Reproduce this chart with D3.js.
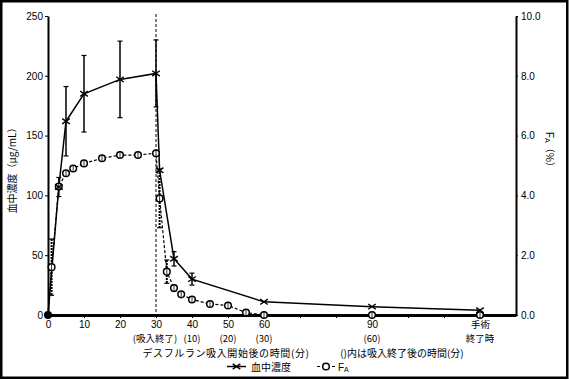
<!DOCTYPE html>
<html><head><meta charset="utf-8">
<script src="https://cdn.jsdelivr.net/npm/d3@7"></script>
<style>
body{margin:0;background:#fff;}
text{font-family:"Liberation Sans",Arial,sans-serif;}
.jp{font-family:"Noto Sans CJK JP",sans-serif;}
</style></head>
<body><svg id="c" width="569" height="380"></svg>
<script>
// ---- data ----
const bloodTime = [0, 3, 5, 10, 20, 30, 31, 35, 40, 60, 90, 120];
const bloodConc = [0, 107, 162, 185, 197, 202, 121, 47, 30, 11, 7, 4];
const bloodErr  = [0, 8, 29, 32, 32, 28, 0, 6, 5, 0, 0, 0];

const faTime = [0, 1, 3, 5, 7, 10, 15, 20, 25, 30, 31, 33, 35, 37, 40, 45, 50, 55, 60, 90, 120];
const faPct  = [0, 1.6, 4.3, 4.74, 4.9, 5.07, 5.24, 5.35, 5.35, 5.41, 3.9, 1.45, 0.9, 0.69, 0.52, 0.37, 0.32, 0.08, 0, 0, 0];
const faErr  = [0, 0.94, 0, 0, 0, 0, 0, 0, 0, 0, 0.98, 0.39, 0.1, 0, 0, 0, 0, 0, 0, 0, 0];

const xTickVals = [0, 10, 20, 30, 40, 50, 60, 90, 120];
const xTickLabels = ["0", "10", "20", "30", "40", "50", "60", "90", "手術"];
const xSubVals = [30, 40, 50, 60, 90, 120];
const xSubLabels = ["(吸入終了)", "(10)", "(20)", "(30)", "(60)", "終了時"];
const leftTicks = [0, 50, 100, 150, 200, 250];
const rightTicks = [0, 2, 4, 6, 8, 10];
const endTime = 30;

// ---- drawing ----
const svg = d3.select("#c");
svg.append("rect").attr("x",1.25).attr("y",1.25).attr("width",566).attr("height",376.5)
  .attr("fill","none").attr("stroke","#000").attr("stroke-width",2.5);

const x = d3.scaleLinear().domain([0,130]).range([48,516]);
const yL = d3.scaleLinear().domain([0,250]).range([315,16]);
const yR = d3.scaleLinear().domain([0,10]).range([315,16]);

// left axis
const gl = svg.append("g").attr("transform","translate(48,0)")
  .call(d3.axisLeft(yL).tickValues(leftTicks).tickSize(3).tickPadding(2).tickSizeOuter(0));
gl.select(".domain").attr("stroke-width",2);
gl.selectAll("text").attr("font-size",10).attr("fill","#000");

// right axis
const gr = svg.append("g").attr("transform","translate(516,0)")
  .call(d3.axisRight(yR).tickValues(rightTicks).tickSize(2).tickPadding(3).tickSizeOuter(0).tickFormat(d3.format(".1f")));
gr.select(".domain").attr("stroke-width",2);
gr.selectAll("text").attr("font-size",10).attr("fill","#000");

// x axis
const allTicks = d3.range(0,130,10);
const gx = svg.append("g").attr("transform","translate(0,315)")
  .call(d3.axisBottom(x).tickValues(allTicks).tickSize(3).tickPadding(3).tickSizeOuter(0)
    .tickFormat(d => { const i = xTickVals.indexOf(d); return i >= 0 ? xTickLabels[i] : ""; }));
gx.select(".domain").attr("stroke-width",3);
gx.selectAll("text").attr("fill","#000")
  .attr("font-size", d => d === 120 ? 9.5 : 10)
  .attr("class", d => d === 120 ? "jp" : null);

// second row labels
svg.append("g").selectAll("text").data(xSubVals).join("text")
  .attr("class","jp").attr("x", d => x(d) + (d === 30 ? -1 : 0)).attr("y",342).attr("text-anchor","middle")
  .attr("font-size",9.5).text((d,i) => xSubLabels[i]);

// third row
svg.append("text").attr("class","jp").attr("x",226).attr("y",356.5).attr("text-anchor","middle")
  .attr("font-size",10).attr("letter-spacing",0.6).text("デスフルラン吸入開始後の時間(分)");
svg.append("text").attr("class","jp").attr("x",402).attr("y",356.5).attr("text-anchor","middle")
  .attr("font-size",10).text("()内は吸入終了後の時間(分)");

// axis titles
svg.append("text").attr("class","jp").attr("transform","translate(16,168) rotate(-90)")
  .attr("text-anchor","middle").attr("font-size",10).text("血中濃度（μg/mL）");
const rt = svg.append("text").attr("transform","translate(546,152) rotate(90)")
  .attr("text-anchor","middle").attr("font-size",10);
rt.append("tspan").text("F");
rt.append("tspan").attr("font-size",7).attr("dy",1).text("A");
rt.append("tspan").attr("class","jp").attr("dy",-1).text("（%）");

// vertical dashed line at end of inhalation
svg.append("line").attr("x1",x(endTime)).attr("x2",x(endTime)).attr("y1",14).attr("y2",315)
  .attr("stroke","#000").attr("stroke-width",1).attr("stroke-dasharray","3,2");

// data objects
const blood = bloodTime.map((t,i)=>({t, v:bloodConc[i], e:bloodErr[i]}));
const fa = faTime.map((t,i)=>({t, v:faPct[i], e:faErr[i]}));

// FA error bars (dashed style)
const gfe = svg.append("g");
fa.filter(d=>d.e>0).forEach(d=>{
  gfe.append("line").attr("x1",x(d.t)).attr("x2",x(d.t)).attr("y1",yR(d.v+d.e)).attr("y2",yR(d.v-d.e))
    .attr("stroke","#000").attr("stroke-width",2).attr("stroke-dasharray","2,1");
  [d.v+d.e, d.v-d.e].forEach(v=>gfe.append("line").attr("x1",x(d.t)-2.5).attr("x2",x(d.t)+2.5)
    .attr("y1",yR(v)).attr("y2",yR(v)).attr("stroke","#000").attr("stroke-width",1.2));
});

// blood error bars
const gbe = svg.append("g");
blood.filter(d=>d.e>0).forEach(d=>{
  gbe.append("line").attr("x1",x(d.t)).attr("x2",x(d.t)).attr("y1",yL(d.v+d.e)).attr("y2",yL(d.v-d.e))
    .attr("stroke","#000").attr("stroke-width",1.5);
  [d.v+d.e, d.v-d.e].forEach(v=>gbe.append("line").attr("x1",x(d.t)-2.5).attr("x2",x(d.t)+2.5)
    .attr("y1",yL(v)).attr("y2",yL(v)).attr("stroke","#000").attr("stroke-width",1.2));
});

// FA line
svg.append("path").datum(fa.filter(d=>d.t<=60))
  .attr("d", d3.line().x(d=>x(d.t)).y(d=>yR(d.v)))
  .attr("fill","none").attr("stroke","#000").attr("stroke-width",1.2).attr("stroke-dasharray","3,2");

// blood line
svg.append("path").datum(blood)
  .attr("d", d3.line().x(d=>x(d.t)).y(d=>yL(d.v)))
  .attr("fill","none").attr("stroke","#000").attr("stroke-width",1.5);

// FA markers
svg.append("g").selectAll("circle").data(fa).join("circle")
  .attr("cx",d=>x(d.t)).attr("cy",d=>yR(d.v)).attr("r",3.3)
  .attr("fill",d=>d.t===0?"#000":"#fff").attr("stroke","#000").attr("stroke-width",1.5);
svg.append("g").selectAll("line").data(fa.filter(d=>d.t>0)).join("line")
  .attr("x1",d=>x(d.t)).attr("x2",d=>x(d.t)).attr("y1",d=>yR(d.v)-3).attr("y2",d=>yR(d.v)+3)
  .attr("stroke","#000").attr("stroke-width",0.8);

// blood markers (x)
const cross = (g, cx, cy, s) => {
  g.append("line").attr("x1",cx-s).attr("y1",cy-s*0.7).attr("x2",cx+s).attr("y2",cy+s*0.7);
  g.append("line").attr("x1",cx-s).attr("y1",cy+s*0.7).attr("x2",cx+s).attr("y2",cy-s*0.7);
};
const gbm = svg.append("g").attr("stroke","#000").attr("stroke-width",1.4);
blood.filter(d=>d.t>0).forEach(d=>cross(gbm, x(d.t), yL(d.v), 3.8));

// legend
const ly = 366.5;
const lg = svg.append("g");
lg.append("line").attr("x1",227).attr("x2",246).attr("y1",ly).attr("y2",ly).attr("stroke","#000").attr("stroke-width",1.5);
cross(lg.append("g").attr("stroke","#000").attr("stroke-width",1.4), 236.5, ly, 3.8);
lg.append("text").attr("class","jp").attr("x",251).attr("y",370.5).attr("font-size",10).text("血中濃度");
lg.append("line").attr("x1",317).attr("x2",335).attr("y1",ly).attr("y2",ly).attr("stroke","#000").attr("stroke-width",1.2).attr("stroke-dasharray","3,2");
lg.append("circle").attr("cx",326).attr("cy",ly).attr("r",3.3).attr("fill","#fff").attr("stroke","#000").attr("stroke-width",1.5);
const lt = lg.append("text").attr("x",338).attr("y",370.5).attr("font-size",10);
lt.append("tspan").text("F");
lt.append("tspan").attr("font-size",7).attr("dy",1).text("A");
</script></body></html>
